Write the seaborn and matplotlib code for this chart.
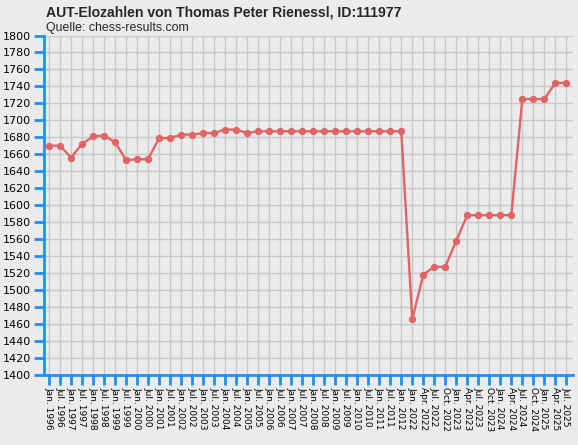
import matplotlib
matplotlib.use("Agg")
import matplotlib.pyplot as plt
import pandas as pd
import seaborn as sns

# dates of the rating lists (as shown on the x axis)
dates = ["Jan. 1996", "Jul. 1996", "Jan. 1997", "Jul. 1997", "Jan. 1998",
         "Jul. 1998", "Jan. 1999", "Jul. 1999", "Jan. 2000", "Jul. 2000",
         "Jan. 2001", "Jul. 2001", "Jan. 2002", "Jul. 2002", "Jan. 2003",
         "Jul. 2003", "Jan. 2004", "Jul. 2004", "Jan. 2005", "Jul. 2005",
         "Jan. 2006", "Jul. 2006", "Jan. 2007", "Jul. 2007", "Jan. 2008",
         "Jul. 2008", "Jan. 2009", "Jul. 2009", "Jan. 2010", "Jul. 2010",
         "Jan. 2011", "Jul. 2011", "Jan. 2012", "Jan. 2022", "Apr. 2022",
         "Jul. 2022", "Oct. 2022", "Jan. 2023", "Apr. 2023", "Jul. 2023",
         "Oct. 2023", "Jan. 2024", "Apr. 2024", "Jul. 2024", "Oct. 2024",
         "Jan. 2025", "Apr. 2025", "Jul. 2025"]

# national ratings
elo = [1670, 1670, 1656, 1672, 1681, 1682, 1674, 1653, 1654, 1654,
       1679, 1679, 1683, 1683, 1685, 1685, 1689, 1689, 1685, 1687,
       1687, 1687, 1687, 1687, 1687, 1687, 1687, 1687, 1687, 1687,
       1687, 1687, 1687, 1465, 1518, 1527, 1527, 1558, 1588, 1588,
       1588, 1588, 1588, 1725, 1725, 1725, 1744, 1744]

y_ticks = list(range(1400, 1801, 20))

BG = "#ebebeb"
BLUE = "#1e90ff"
LINE = "#e06464"

sns.set_theme(style="whitegrid")
plt.rcParams["font.family"] = ["DejaVu Sans"]

df = pd.DataFrame({"pos": range(len(dates)), "elo": elo})

fig = plt.figure(figsize=(5.78, 4.45), dpi=100, facecolor=BG)
ax = fig.add_axes([0.0753, 0.1584, 0.9913 - 0.0753, 0.9202 - 0.1584])
ax.set_facecolor(BG)

sns.lineplot(data=df, x="pos", y="elo", ax=ax, color=LINE, linewidth=1.7,
             marker="o", markersize=4.5, markeredgecolor=LINE,
             markerfacecolor=LINE, zorder=3)

ax.set_xlim(-0.5, len(dates) - 0.4)
ax.set_ylim(1400, 1800)
ax.set_xticks(range(len(dates)))
ax.set_xticklabels(dates, rotation=-90, fontsize=6.5, va="top", ha="center")
ax.set_yticks(y_ticks)
ax.set_yticklabels([str(v) for v in y_ticks], fontsize=8)
ax.set_xlabel("")
ax.set_ylabel("")

ax.grid(True, color="#c8c8c8", linewidth=1)
ax.set_axisbelow(True)
for side in ["top", "right"]:
    ax.spines[side].set_visible(False)
for side in ["left", "bottom"]:
    ax.spines[side].set_visible(True)
    ax.spines[side].set_color(BLUE)
    ax.spines[side].set_linewidth(2)
ax.tick_params(axis="both", colors=BLUE, direction="out", width=2,
               length=7, labelcolor="black", pad=2, bottom=True, left=True)

fig.text(0.079, 0.972, "AUT-Elozahlen von Thomas Peter Rienessl, ID:111977",
         fontsize=10.1, fontweight="bold", family="Liberation Sans",
         ha="left", va="center")
fig.text(0.079, 0.938, "Quelle: chess-results.com", fontsize=8.9,
         family="Liberation Sans", ha="left", va="center")

fig.savefig("out.png", dpi=100, facecolor=BG)
